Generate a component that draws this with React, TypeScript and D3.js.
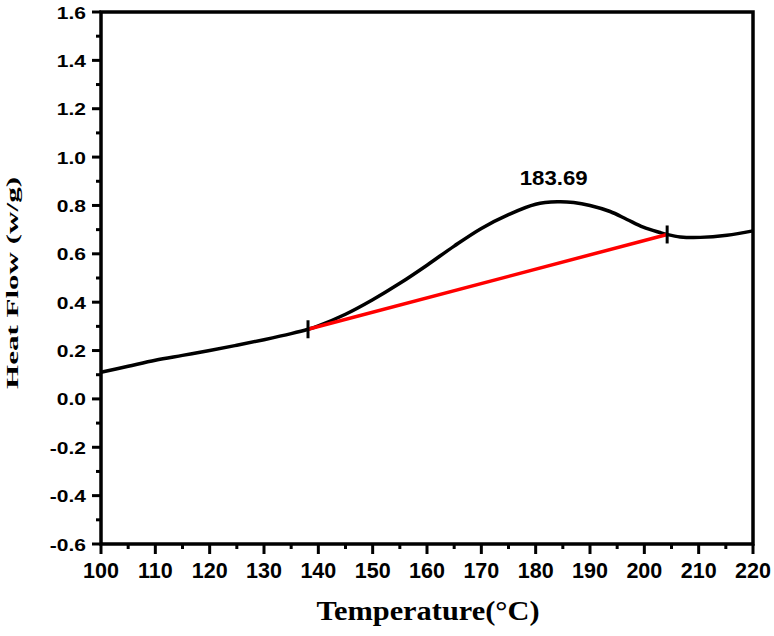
import React from 'react';
import * as d3 from 'd3';

const WIDTH = 774;
const HEIGHT = 636;
const MARGIN = { top: 12, right: 21, bottom: 92, left: 101 };

// DSC trace
const temps = [100, 105, 110, 115, 120, 125, 130, 135, 138.1, 140, 145, 150, 155, 160, 165, 170, 175, 180, 184, 187, 190, 193.7, 196.8, 199.8, 202.9, 204.2, 206.6, 210.3, 215.2, 220];
const heatFlow = [0.11, 0.135, 0.16, 0.18, 0.2, 0.222, 0.245, 0.27, 0.288, 0.302, 0.35, 0.41, 0.478, 0.553, 0.632, 0.705, 0.762, 0.805, 0.815, 0.812, 0.8, 0.775, 0.742, 0.71, 0.688, 0.68, 0.67, 0.668, 0.677, 0.695];

// baseline drawn under the peak
const baseTemps = [138.1, 204.2];
const baseFlow = [0.288, 0.68];

const peakLabel = '183.69';
const peakTemp = 183.69;
const peakFlow = 0.815;

const xTicks = [100, 110, 120, 130, 140, 150, 160, 170, 180, 190, 200, 210, 220];
const xMinor = [105, 115, 125, 135, 145, 155, 165, 175, 185, 195, 205, 215];
const yTicks = [-0.6, -0.4, -0.2, 0, 0.2, 0.4, 0.6, 0.8, 1.0, 1.2, 1.4, 1.6];
const yMinor = [-0.5, -0.3, -0.1, 0.1, 0.3, 0.5, 0.7, 0.9, 1.1, 1.3, 1.5];

const App = () => {
    const left = MARGIN.left;
    const right = WIDTH - MARGIN.right;
    const top = MARGIN.top;
    const bottom = HEIGHT - MARGIN.bottom;

    const xScale = d3.scaleLinear().domain([100, 220]).range([left, right]);
    const yScale = d3.scaleLinear().domain([-0.6, 1.6]).range([bottom, top]);

    const pts = temps.map((t, i) => [t, heatFlow[i]] as [number, number]);
    const line = d3.line<[number, number]>()
        .x(d => xScale(d[0]))
        .y(d => yScale(d[1]))
        .curve(d3.curveCatmullRom.alpha(0.5));

    const basePts = baseTemps.map((t, i) => [t, baseFlow[i]] as [number, number]);
    const straight = d3.line<[number, number]>()
        .x(d => xScale(d[0]))
        .y(d => yScale(d[1]));

    const labelFont = '"Liberation Sans", Arial, sans-serif';
    const titleFont = '"Liberation Serif", "Times New Roman", serif';

    return (
        <svg width={WIDTH} height={HEIGHT} style={{ position: 'absolute', left: 0, top: 0 }}>
            <rect x={0} y={0} width={WIDTH} height={HEIGHT} fill="#fff" />

            {/* y ticks */}
            {yTicks.map(v => (
                <g key={'y' + v}>
                    <line x1={left - 9} x2={left} y1={yScale(v)} y2={yScale(v)} stroke="#000" strokeWidth={3} />
                    <text
                        transform={`translate(${left - 15},${yScale(v) + 6.5}) scale(1,0.82)`}
                        textAnchor="end"
                        fontFamily={labelFont}
                        fontWeight="bold"
                        fontSize={21}
                    >
                        {v.toFixed(1)}
                    </text>
                </g>
            ))}
            {yMinor.map(v => (
                <line key={'ym' + v} x1={left - 5} x2={left} y1={yScale(v)} y2={yScale(v)} stroke="#000" strokeWidth={3} />
            ))}

            {/* x ticks */}
            {xTicks.map(v => (
                <g key={'x' + v}>
                    <line x1={xScale(v)} x2={xScale(v)} y1={bottom} y2={bottom + 10} stroke="#000" strokeWidth={3} />
                    <text
                        x={xScale(v)}
                        y={bottom + 34}
                        textAnchor="middle"
                        fontFamily={labelFont}
                        fontWeight="bold"
                        fontSize={21.5}
                    >
                        {v}
                    </text>
                </g>
            ))}
            {xMinor.map(v => (
                <line key={'xm' + v} x1={xScale(v)} x2={xScale(v)} y1={bottom} y2={bottom + 5} stroke="#000" strokeWidth={3} />
            ))}

            {/* data */}
            <path d={line(pts) || ''} fill="none" stroke="#000" strokeWidth={3.5} strokeLinejoin="round" />
            <path d={straight(basePts) || ''} fill="none" stroke="#ff0000" strokeWidth={3.5} />
            {baseTemps.map((t, i) => (
                <line
                    key={'m' + t}
                    x1={xScale(t)} x2={xScale(t)}
                    y1={yScale(baseFlow[i]) - 9} y2={yScale(baseFlow[i]) + 9}
                    stroke="#000" strokeWidth={3}
                />
            ))}
            <text
                x={xScale(peakTemp) - 2}
                y={yScale(peakFlow) - 17}
                textAnchor="middle"
                fontFamily={labelFont}
                fontWeight="bold"
                fontSize={19.5}
                textLength={68}
                lengthAdjust="spacingAndGlyphs"
            >
                {peakLabel}
            </text>

            {/* frame */}
            <rect x={left} y={top} width={right - left} height={bottom - top} fill="none" stroke="#000" strokeWidth={3.5} />

            {/* axis titles */}
            <text
                transform="translate(18,283) rotate(-90)"
                textAnchor="middle"
                fontFamily={titleFont}
                fontWeight="bold"
                fontSize={17}
                textLength={212}
                lengthAdjust="spacingAndGlyphs"
            >
                Heat Flow (w/g)
            </text>
            <text
                x={428}
                y={620}
                textAnchor="middle"
                fontFamily={titleFont}
                fontWeight="bold"
                fontSize={27}
                textLength={223}
                lengthAdjust="spacingAndGlyphs"
            >
                Temperature(°C)
            </text>
        </svg>
    );
};

export default App;
